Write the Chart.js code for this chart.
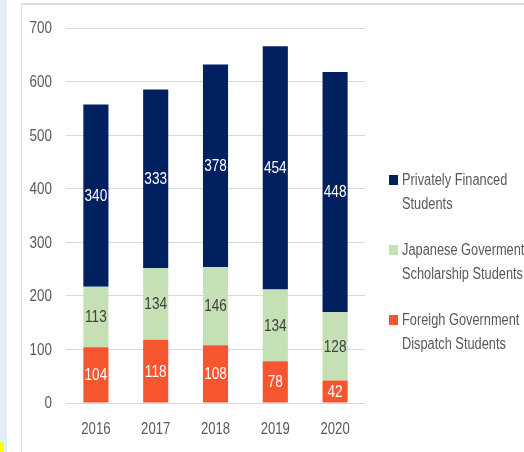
<!DOCTYPE html>
<html lang="en">

<head>
    <meta charset="UTF-8">
    <meta name="viewport" content="width=device-width, initial-scale=1.0">
    <title>International Students</title>
    <style>
        body { margin: 0; background: #fff; }
        #wrap { position: relative; width: 524px; height: 452px; overflow: hidden; }
        #strip { position: absolute; left: 0; top: 0; width: 7px; height: 452px; background: #e3edf8; }
        #panel { position: absolute; left: 21px; top: 3px; right: 0; bottom: 0; border-left: 1px solid #dedede; border-top: 2px solid #dedede; }
        #mark { position: absolute; left: 0; top: 442px; width: 4px; height: 10px; background: #ffff00; }
        #myChart { position: absolute; left: 0; top: 0; }
    </style>
</head>

<body>
    <div id="wrap">
        <div id="strip"></div>
        <div id="panel"></div>
        <div id="mark"></div>
        <canvas id="myChart" width="524" height="452"></canvas>
    </div>

    <script src="https://cdn.jsdelivr.net/npm/chart.js"></script>
    <script>
        // data
        let v_years = ["2016", "2017", "2018", "2019", "2020"];
        let v_foreign = [104, 118, 108, 78, 42];
        let v_japanese = [113, 134, 146, 134, 128];
        let v_private = [340, 333, 378, 454, 448];
        let v_yTicks = [0, 100, 200, 300, 400, 500, 600, 700];

        let v_foreignLabel = ["Foreigh Government", "Dispatch Students"];
        let v_japaneseLabel = ["Japanese Goverment", "Scholarship Students"];
        let v_privateLabel = ["Privately Financed", "Students"];

        const v_font = "16px 'Liberation Sans', Arial, sans-serif";
        const v_grey = "#595959";

        // no narrow font installed, so squeeze the text sideways (looks like Calibri)
        function f_text(c, txt, x, y, align, squeeze) {
            c.save();
            c.translate(x, y);
            c.scale(squeeze, 1);
            c.textAlign = align;
            c.fillText(txt, 0, 0);
            c.restore();
        }

        // tick labels drawn by hand so they can be squeezed too
        const p_ticks = {
            id: "p_ticks",
            afterDraw(chart) {
                let c = chart.ctx;
                let sx = chart.scales.x;
                let sy = chart.scales.y;
                c.save();
                c.font = v_font;
                c.fillStyle = v_grey;
                c.textBaseline = "middle";
                sy.ticks.forEach((t) => {
                    f_text(c, String(t.value), sx.left - 14, sy.getPixelForValue(t.value) + 1, "right", 0.84);
                });
                chart.data.labels.forEach((lab, i) => {
                    f_text(c, lab, sx.getPixelForTick(i), sy.bottom + 27, "center", 0.82);
                });
                c.restore();
            }
        };

        // value text in the middle of each segment
        const p_values = {
            id: "p_values",
            afterDatasetsDraw(chart) {
                let c = chart.ctx;
                c.save();
                c.font = v_font;
                c.textBaseline = "middle";
                chart.data.datasets.forEach((ds, i) => {
                    let meta = chart.getDatasetMeta(i);
                    meta.data.forEach((bar, j) => {
                        let p = bar.getProps(["x", "y", "base"], true);
                        c.fillStyle = ds.textColor;
                        f_text(c, String(ds.data[j]), p.x, (p.y + p.base) / 2 + 1, "center", 0.85);
                    });
                });
                c.restore();
            }
        };

        // legend on the right, two lines per item, top dataset first
        const p_legend = {
            id: "p_legend",
            afterDraw(chart) {
                let c = chart.ctx;
                let x = chart.chartArea.right + 24;
                let y = 180;
                c.save();
                c.font = v_font;
                c.textBaseline = "middle";
                let list = chart.data.datasets.slice().reverse();
                list.forEach((ds) => {
                    c.fillStyle = ds.backgroundColor;
                    c.fillRect(x, y - 5, 9, 10);
                    c.fillStyle = v_grey;
                    ds.label.forEach((line, k) => {
                        f_text(c, line, x + 13, y + 1 + k * 24, "left", 0.8);
                    });
                    y += 70;
                });
                c.restore();
            }
        };

        const ctx = document.getElementById("myChart");

        let v_chart = new Chart(ctx, {
            type: "bar",
            data: {
                labels: v_years,
                datasets: [
                    { label: v_foreignLabel, data: v_foreign, backgroundColor: "#f75530", textColor: "#ffffff" },
                    { label: v_japaneseLabel, data: v_japanese, backgroundColor: "#c5e0b4", textColor: "#3f3f3f" },
                    { label: v_privateLabel, data: v_private, backgroundColor: "#002060", textColor: "#ffffff" }
                ]
            },
            options: {
                responsive: false,
                animation: false,
                layout: { padding: { top: 28, right: 159, bottom: 0, left: 0 } },
                datasets: { bar: { barPercentage: 0.42, categoryPercentage: 1 } },
                plugins: { legend: { display: false }, tooltip: { enabled: false } },
                scales: {
                    x: {
                        stacked: true,
                        grid: { display: false },
                        border: { display: false },
                        ticks: { display: false },
                        afterFit: (s) => { s.height = 49; }
                    },
                    y: {
                        stacked: true,
                        min: 0,
                        max: 700,
                        afterBuildTicks: (s) => { s.ticks = v_yTicks.map((v) => ({ value: v })); },
                        grid: { color: "#d9d9d9", drawTicks: false },
                        border: { display: false },
                        ticks: { display: false },
                        afterFit: (s) => { s.width = 66; }
                    }
                }
            },
            plugins: [p_values, p_ticks, p_legend]
        });
    </script>
</body>

</html>
